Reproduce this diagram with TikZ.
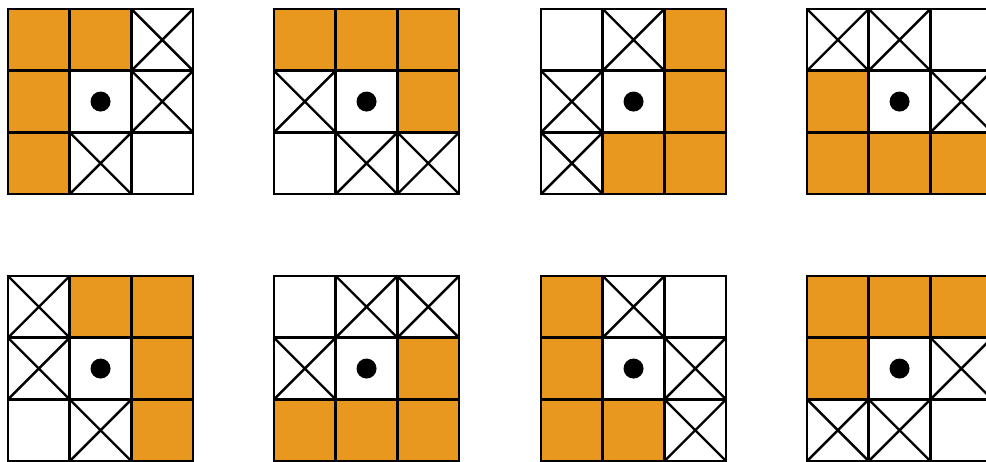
\documentclass[tikz,border=0pt]{standalone}
\usepackage{xcolor}
\usepackage{tikz}
\definecolor{boxorange}{RGB}{233,152,31}
\tikzstyle{cell} = [draw, line width=2.5pt, minimum size=61.7pt, inner sep=0pt, outer sep=0pt]
\tikzstyle{cfill} = [fill=boxorange]
\tikzstyle{cblank} = []
\tikzstyle{ccross} = [path picture={\draw[line width=2.4pt] (path picture bounding box.north west) -- (path picture bounding box.south east) (path picture bounding box.south west) -- (path picture bounding box.north east);}]
\tikzstyle{cdot} = [path picture={\fill (path picture bounding box.center) circle (10pt);}]

% one 3x3 mask: name, left, top, nine cells row by row
\newcommand{\maskgrid}[4]{%
  \foreach \kind [count=\i from 0] in {#4} {
    \pgfmathtruncatemacro{\row}{\i/3}
    \pgfmathtruncatemacro{\col}{\i-3*\row}
    \node[cell, \kind] (#1-\row-\col) at ({#2+30.85+61.7*\col}, {#3+30.85+61.7*\row}) {};
  }%
}

\begin{document}
\begin{tikzpicture}[x=1pt, y=-1pt]
    \useasboundingbox (0,0) rectangle (986,461);

    % Top row
    \maskgrid{a}{8}{9}{cfill,cfill,ccross,cfill,cdot,ccross,cfill,ccross,cblank}
    \maskgrid{b}{274}{9}{cfill,cfill,cfill,ccross,cdot,cfill,cblank,ccross,ccross}
    \maskgrid{c}{541}{9}{cblank,ccross,cfill,ccross,cdot,cfill,ccross,cfill,cfill}
    \maskgrid{d}{807}{9}{ccross,ccross,cblank,cfill,cdot,ccross,cfill,cfill,cfill}

    % Bottom row
    \maskgrid{e}{8}{276}{ccross,cfill,cfill,ccross,cdot,cfill,cblank,ccross,cfill}
    \maskgrid{f}{274}{276}{cblank,ccross,ccross,ccross,cdot,cfill,cfill,cfill,cfill}
    \maskgrid{g}{541}{276}{cfill,ccross,cblank,cfill,cdot,ccross,cfill,cfill,ccross}
    \maskgrid{h}{807}{276}{cfill,cfill,cfill,cfill,cdot,ccross,ccross,ccross,cblank}
\end{tikzpicture}
\end{document}
